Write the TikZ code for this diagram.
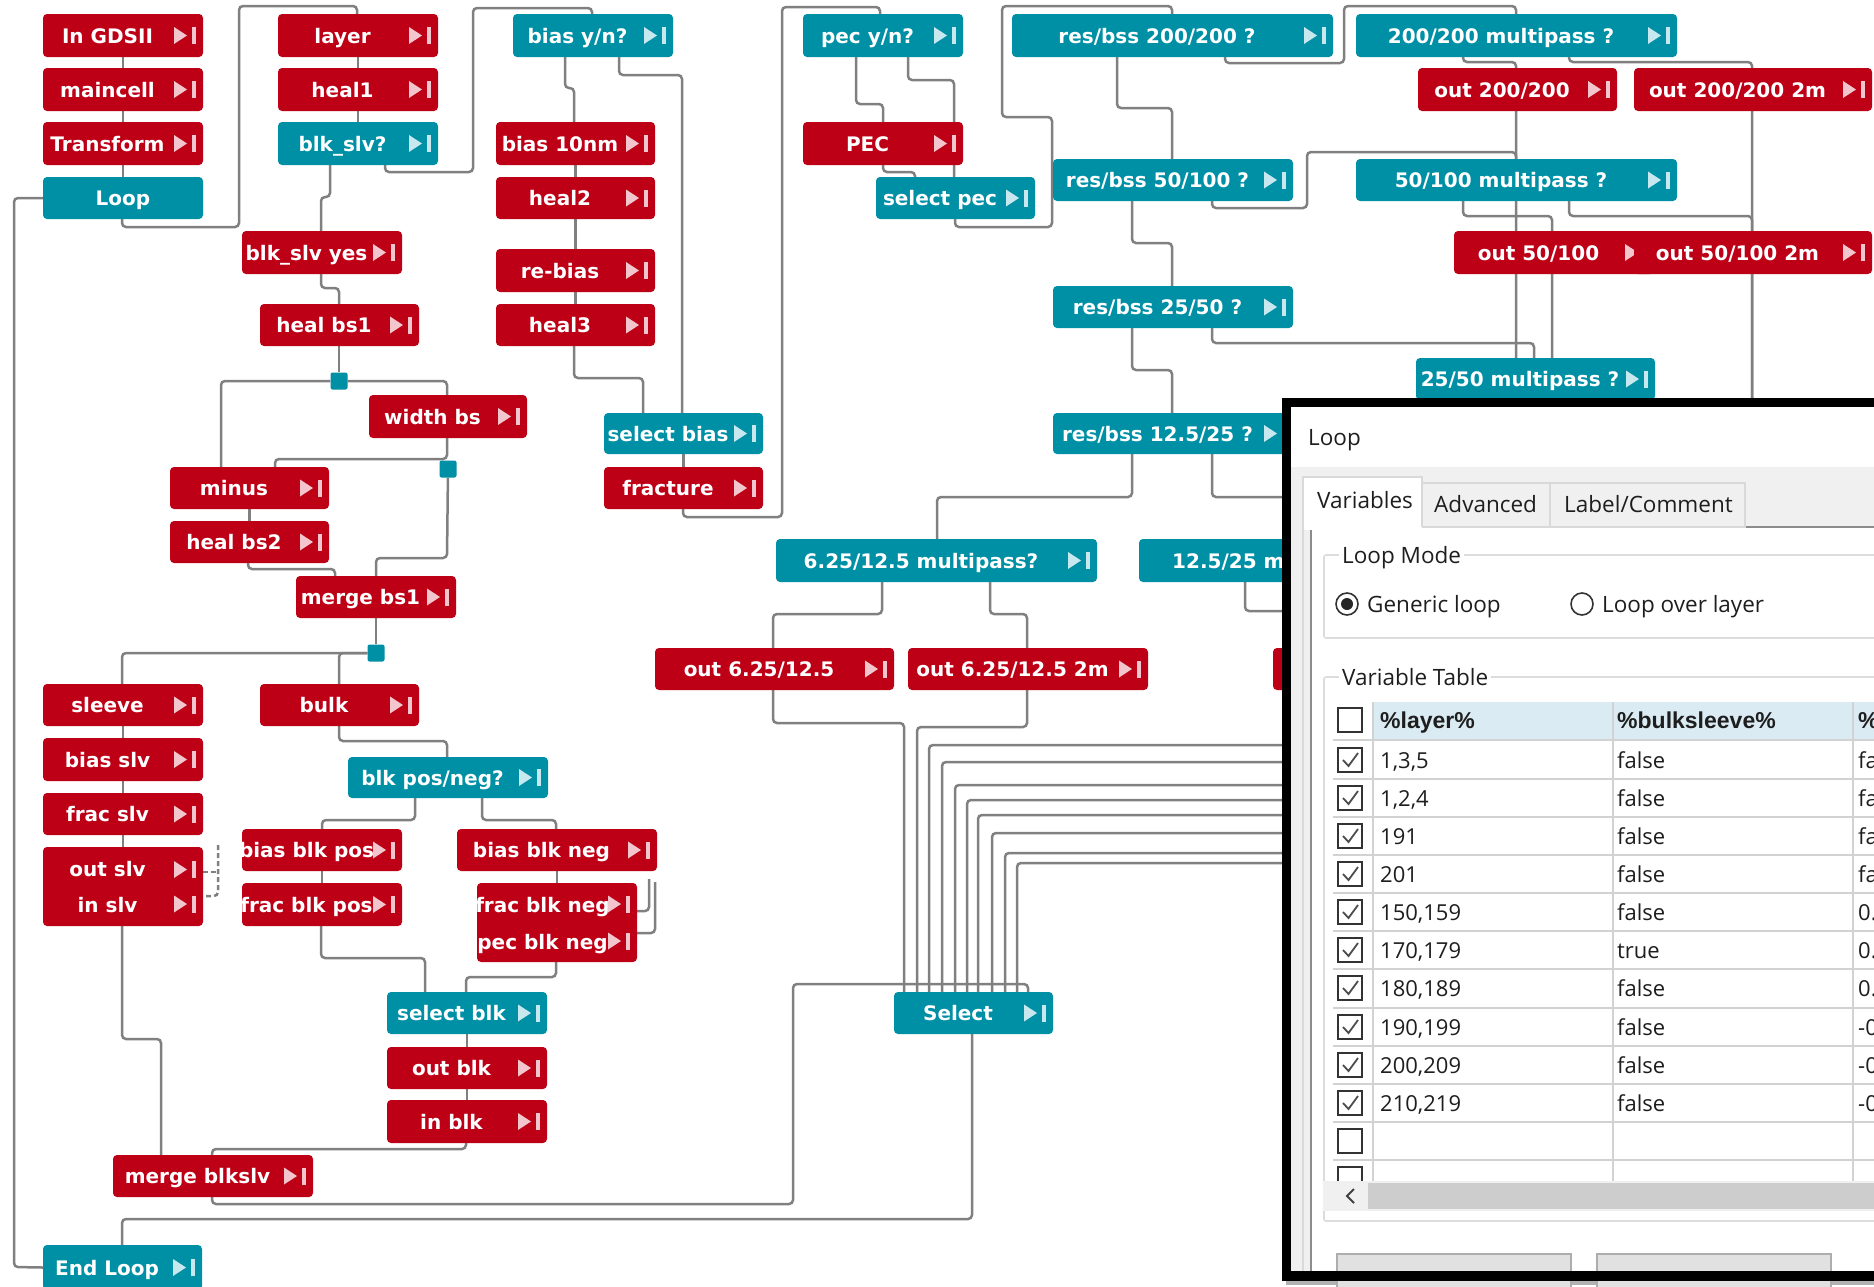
\documentclass[tikz,border=0pt]{standalone}
\usepackage{fontspec}
\newfontfamily\boxfont{DejaVu Sans}
\newfontfamily\uifont{Open Sans}
\newfontfamily\hdrfont{Liberation Sans}
\pgfdeclarelayer{back}
\pgfdeclarelayer{bg}
\pgfsetlayers{back,bg,main}
\definecolor{bred}{HTML}{BE0017}
\definecolor{bteal}{HTML}{0090A6}
\definecolor{bredic}{HTML}{F2C6CC}
\definecolor{btealic}{HTML}{C6E8EE}
\definecolor{wiregray}{HTML}{808080}
\definecolor{uibg}{HTML}{F0F0F0}
\definecolor{tabc}{HTML}{D9D9D9}
\definecolor{panelc}{HTML}{8C8C8C}
\definecolor{grpc}{HTML}{DCDCDC}
\definecolor{hdrblue}{HTML}{DAEBF3}
\definecolor{gridc}{HTML}{D2D2D2}
\definecolor{thumbc}{HTML}{CDCDCD}
\definecolor{btnfill}{HTML}{E1E1E1}
\definecolor{btnline}{HTML}{ADADAD}
\definecolor{uitextc}{HTML}{1E1E1E}
\tikzset{
  boxshape/.style={rectangle, rounded corners=4pt, inner sep=0pt, draw=none},
  boxtext/.style={text=white, font=\boxfont\bfseries\fontsize{20}{24}\selectfont, inner sep=0pt, text height=15pt, text depth=0pt},
  wire/.style={draw=wiregray, line width=2.5pt, rounded corners=4pt},
  splitsq/.style={rectangle, fill=bteal, minimum size=17pt, inner sep=0pt, rounded corners=2pt},
  uitext/.style={font=\uifont\fontsize{22.5}{27}\selectfont, text=uitextc, anchor=west, inner sep=0pt, text height=16pt, text depth=0pt},
  celltext/.style={font=\uifont\fontsize{22}{26}\selectfont, text=uitextc, anchor=west, inner sep=0pt, text height=16pt, text depth=0pt},
  hdrtext/.style={font=\hdrfont\bfseries\fontsize{23}{27}\selectfont, text=uitextc, anchor=west, inner sep=0pt, text height=16pt, text depth=0pt},
  cboxst/.style={draw=black!80, line width=1.6pt, fill=white},
  cmarkst/.style={draw=black!70, line width=1.8pt},
  gridst/.style={draw=gridc, line width=2pt},
  grpst/.style={draw=grpc, line width=1.6pt},
  radiost/.style={draw=black!80, line width=1.6pt, fill=white},
}
\newcommand\icn[3]{%
  \fill[#1] ({#2-29},{#3-8.5}) -- ({#2-16},{#3}) -- ({#2-29},{#3+8.5}) -- cycle;
  \fill[#1] ({#2-11},{#3-8.5}) rectangle ({#2-7},{#3+8.5});
}
\newcommand\blk[7]{%
  \node[boxshape, fill=#2, minimum width={(#5-#3)*1pt}, minimum height={(#6-#4)*1pt}] (#1) at ({(#3+#5)/2},{(#4+#6)/2}) {};
  \node[boxtext] (#1t) at ({(#3+#5-31)/2},{(#4+#6)/2}) {#7};
  \icn{#2ic}{#5}{(#4+#6)/2}%
}
\newcommand\trow[5]{%
  \draw[cboxst] (1338,{#2-12}) rectangle (1362,{#2+12});
  \draw[cmarkst] (1343,{#2}) -- (1348.5,{#2+6}) -- (1358,{#2-7});
  \node[celltext] (#1a) at (1380,#2) {#3};
  \node[celltext] (#1b) at (1617,#2) {#4};
  \node[celltext] (#1c) at (1858,#2) {#5};
}
\begin{document}
\begin{tikzpicture}[x=1pt,y=-1pt]
\useasboundingbox (0,0) rectangle (1874,1286);
\begin{pgfonlayer}{back}
\fill[white] (0,0) rectangle (1874,1286);
\end{pgfonlayer}

% ---------- left column
\blk{ingds}{bred}{43}{14}{203}{57}{In GDSII}
\blk{maincell}{bred}{43}{68}{203}{111}{maincell}
\blk{transform}{bred}{43}{122}{203}{165}{Transform}
\node[boxshape, fill=bteal, minimum width=160pt, minimum height=42pt] (loop) at (123,198) {};
\node[boxtext] (loopt) at (123,198) {Loop};
\blk{layer}{bred}{278}{14}{438}{57}{layer}
\blk{heal1}{bred}{278}{68}{438}{111}{heal1}
\blk{blkslvq}{bteal}{278}{122}{438}{165}{blk\_slv?}
\blk{blkslvyes}{bred}{242}{231}{402}{274}{blk\_slv yes}
\blk{healbs1}{bred}{260}{304}{419}{346}{heal bs1}
\blk{widthbs}{bred}{369}{395}{527}{438}{width bs}
\blk{minus}{bred}{170}{467}{329}{509}{minus}
\blk{healbs2}{bred}{170}{521}{329}{563}{heal bs2}
\blk{mergebs1}{bred}{296}{576}{456}{618}{merge bs1}
\blk{sleeve}{bred}{43}{684}{203}{726}{sleeve}
\blk{biasslv}{bred}{43}{738}{203}{781}{bias slv}
\blk{fracslv}{bred}{43}{793}{203}{835}{frac slv}
\node[boxshape, fill=bred, minimum width=160pt, minimum height=79pt] (outinslv) at (123,886.5) {};
\node[boxtext] (outslvt) at (107.5,869) {out slv};
\node[boxtext] (inslvt) at (107.5,905) {in slv};
\icn{bredic}{203}{869.5}
\icn{bredic}{203}{904}
\blk{bulk}{bred}{260}{684}{419}{726}{bulk}
\blk{blkposneg}{bteal}{348}{757}{548}{798}{blk pos/neg?}
\blk{biasblkpos}{bred}{242}{829}{402}{871}{bias blk pos}
\blk{fracblkpos}{bred}{242}{883}{402}{926}{frac blk pos}
\blk{biasblkneg}{bred}{457}{829}{657}{871}{bias blk neg}
\node[boxshape, fill=bred, minimum width=160pt, minimum height=79pt] (fracpecneg) at (557,922.5) {};
\node[boxtext] (fracnegt) at (542.5,905) {frac blk neg};
\node[boxtext] (pecnegt) at (542.5,942) {pec blk neg};
\icn{bredic}{637}{904}
\icn{bredic}{637}{941}
\blk{selectblk}{bteal}{387}{992}{547}{1034}{select blk}
\blk{outblk}{bred}{387}{1047}{547}{1089}{out blk}
\blk{inblk}{bred}{387}{1100}{547}{1143}{in blk}
\blk{mergeblkslv}{bred}{113}{1155}{313}{1197}{merge blkslv}
\blk{endloop}{bteal}{43}{1245}{202}{1290}{End Loop}

% ---------- middle
\blk{biasyn}{bteal}{513}{14}{673}{57}{bias y/n?}
\blk{bias10}{bred}{496}{122}{655}{165}{bias 10nm}
\blk{heal2}{bred}{496}{177}{655}{219}{heal2}
\blk{rebias}{bred}{496}{249}{655}{292}{re-bias}
\blk{heal3}{bred}{496}{304}{655}{346}{heal3}
\blk{selectbias}{bteal}{604}{413}{763}{454}{select bias}
\blk{fracture}{bred}{604}{467}{763}{509}{fracture}
\blk{pecyn}{bteal}{803}{14}{963}{57}{pec y/n?}
\blk{pec}{bred}{803}{122}{963}{165}{PEC}
\blk{selectpec}{bteal}{876}{177}{1035}{219}{select pec}

% ---------- right
\blk{rb200}{bteal}{1012}{14}{1333}{57}{res/bss 200/200 ?}
\blk{mp200}{bteal}{1356}{14}{1677}{57}{200/200 multipass ?}
\blk{out200}{bred}{1418}{68}{1617}{111}{out 200/200}
\blk{out200m}{bred}{1634}{68}{1872}{111}{out 200/200 2m}
\blk{rb50}{bteal}{1053}{159}{1293}{201}{res/bss 50/100 ?}
\blk{mp50}{bteal}{1356}{159}{1677}{201}{50/100 multipass ?}
\blk{out50}{bred}{1454}{231}{1654}{274}{out 50/100}
\blk{out50m}{bred}{1634}{231}{1872}{274}{out 50/100 2m}
\blk{rb25}{bteal}{1053}{286}{1293}{328}{res/bss 25/50 ?}
\blk{mp25}{bteal}{1416}{358}{1655}{400}{25/50 multipass ?}
\blk{rb12}{bteal}{1053}{413}{1293}{454}{res/bss 12.5/25 ?}
\blk{mp6}{bteal}{776}{539}{1097}{582}{6.25/12.5 multipass?}
\node[boxshape, fill=bteal, minimum width=321pt, minimum height=43pt] (mp12) at (1299.5,560.5) {};
\node[boxtext, anchor=west] (mp12t) at (1172,560.5) {12.5/25 m};
\blk{out6}{bred}{655}{648}{894}{690}{out 6.25/12.5}
\blk{out6m}{bred}{908}{648}{1148}{690}{out 6.25/12.5 2m}
\node[boxshape, fill=bred, minimum width=240pt, minimum height=42pt] (out12) at (1393,669) {};
\blk{select}{bteal}{894}{992}{1053}{1034}{Select}

\node[splitsq] (sp1) at (339,381) {};
\node[splitsq] (sp2) at (448,469) {};
\node[splitsq] (sp3) at (376,653) {};

\coordinate (hidA) at (1400,833);
\coordinate (hidB) at (1400,853);
\coordinate (hidC) at (1400,863);

% ---------- connectors
\begin{pgfonlayer}{bg}
\draw[wire] (ingds) -- (maincell) -- (transform) -- (loop);
\draw[wire] (layer) -- (heal1) -- (blkslvq);
\draw[wire] (bias10) -- (heal2) -- (rebias) -- (heal3);
\draw[wire] (selectbias) -- (fracture);
\draw[wire] (minus) -- (healbs2);
\draw[wire] (sleeve) -- (biasslv) -- (fracslv) -- (outinslv);
\draw[wire] (biasblkpos) -- (fracblkpos);
\draw[wire] (biasblkneg) -- (fracpecneg);
\draw[wire] (selectblk) -- (outblk) -- (inblk);

\draw[wire] (loop.south -| 122,0) -- (122,227) -- (239,227) -- (239,6) -- (357,6) -- (layer.north -| 357,0);
\draw[wire] (blkslvq.south -| 330,0) -- (330,197) -- (321,197) -- (blkslvyes.north -| 321,0);
\draw[wire] (blkslvq.south -| 385,0) -- (385,172) -- (473,172) -- (473,8) -- (592,8) -- (biasyn.north -| 592,0);
\draw[wire] (blkslvyes.south -| 321,0) -- (321,288) -- (339,288) -- (healbs1.north -| 339,0);
\draw[wire] (healbs1.south -| 339,0) -- (sp1);
\draw[wire] (sp1) -- (221,381) -- (minus.north -| 221,0);
\draw[wire] (sp1) -- (447,381) -- (widthbs.north -| 447,0);
\draw[wire] (widthbs.south -| 447,0) -- (447,459) -- (275,459) -- (minus.north -| 275,0);
\draw[wire] (sp2) -- (447,558) -- (376,558) -- (mergebs1.north -| 376,0);
\draw[wire] (healbs2.south -| 248,0) -- (248,569) -- (335,569) -- (mergebs1.north -| 335,0);
\draw[wire] (mergebs1.south -| 376,0) -- (sp3);
\draw[wire] (sp3) -- (122,653) -- (sleeve.north -| 122,0);
\draw[wire] (sp3) -- (339,653) -- (bulk.north -| 339,0);
\draw[wire] (bulk.south -| 339,0) -- (339,741) -- (447,741) -- (blkposneg.north -| 447,0);
\draw[wire] (blkposneg.south -| 415,0) -- (415,820) -- (322,820) -- (biasblkpos.north -| 322,0);
\draw[wire] (blkposneg.south -| 482,0) -- (482,820) -- (556,820) -- (biasblkneg.north -| 556,0);
\draw[wire] (fracblkpos.south -| 321,0) -- (321,958) -- (425,958) -- (selectblk.north -| 425,0);
\draw[wire] (fracpecneg.south -| 556,0) -- (556,977) -- (466,977) -- (selectblk.north -| 466,0);
\draw[wire] (outinslv.south -| 122,0) -- (122,1039) -- (161,1039) -- (mergeblkslv.north -| 161,0);
\draw[wire] (inblk.south -| 466,0) -- (466,1149) -- (212,1149) -- (mergeblkslv.north -| 212,0);
\draw[wire] (mergeblkslv.south -| 212,0) -- (212,1204) -- (793,1204) -- (793,984) -- (1028,984) -- (select.north -| 1028,0);
\draw[wire] (select.south -| 972,0) -- (972,1219) -- (122,1219) -- (endloop.north -| 122,0);
\draw[wire] (loop.west) -- (14,198) -- (14,1267) -- (endloop.west);
\draw[wire, dash pattern=on 5pt off 3pt] (outinslv.east |- 0,872) -- (218,872);
\draw[wire, dash pattern=on 5pt off 3pt] (218,845) -- (218,896) -- (outinslv.east |- 0,896);
\draw[wire] (fracpecneg.east |- 0,911) -- (649,911) -- (649,879);
\draw[wire] (fracpecneg.east |- 0,933) -- (655,933) -- (655,882);

\draw[wire] (biasyn.south -| 565,0) -- (565,88) -- (574,88) -- (bias10.north -| 574,0);
\draw[wire] (biasyn.south -| 619,0) -- (619,75) -- (682,75) -- (selectbias.north -| 682,0);
\draw[wire] (heal3.south -| 574,0) -- (574,378) -- (643,378) -- (selectbias.north -| 643,0);
\draw[wire] (fracture.south -| 683,0) -- (683,517) -- (782,517) -- (782,7) -- (880,7) -- (pecyn.north -| 880,0);
\draw[wire] (pecyn.south -| 856,0) -- (856,104) -- (883,104) -- (pec.north -| 883,0);
\draw[wire] (pec.south -| 883,0) -- (883,172) -- (915,172) -- (selectpec.north -| 915,0);
\draw[wire] (pecyn.south -| 908,0) -- (908,80) -- (954,80) -- (selectpec.north -| 954,0);
\draw[wire] (selectpec.south -| 955,0) -- (955,227) -- (1052,227) -- (1052,117) -- (1002,117) -- (1002,6) -- (1172,6) -- (rb200.north -| 1172,0);
\draw[wire] (rb200.south -| 1117,0) -- (1117,108) -- (1172,108) -- (rb50.north -| 1172,0);
\draw[wire] (rb200.south -| 1225,0) -- (1225,63) -- (1344,63) -- (1344,6) -- (1516,6) -- (mp200.north -| 1516,0);
\draw[wire] (mp200.south -| 1463,0) -- (1463,62) -- (1516,62) -- (out200.north -| 1516,0);
\draw[wire] (mp200.south -| 1569,0) -- (1569,62) -- (1752,62) -- (out200m.north -| 1752,0);
\draw[wire] (rb50.south -| 1212,0) -- (1212,208) -- (1307,208) -- (1307,152) -- (1516,152) -- (mp50.north -| 1516,0);
\draw[wire] (mp50.south -| 1463,0) -- (1463,216) -- (1552,216) -- (out50.north -| 1552,0);
\draw[wire] (mp50.south -| 1569,0) -- (1569,216) -- (1752,216) -- (out50m.north -| 1752,0);
\draw[wire] (rb50.south -| 1132,0) -- (1132,243) -- (1172,243) -- (rb25.north -| 1172,0);
\draw[wire] (rb25.south -| 1212,0) -- (1212,343) -- (1534,343) -- (mp25.north -| 1534,0);
\draw[wire] (rb25.south -| 1132,0) -- (1132,370) -- (1172,370) -- (rb12.north -| 1172,0);
\draw[wire] (rb12.south -| 1132,0) -- (1132,497) -- (937,497) -- (mp6.north -| 937,0);
\draw[wire] (rb12.south -| 1212,0) -- (1212,497) -- (1400,497) -- (mp12.north -| 1400,0);
\draw[wire] (mp6.south -| 882,0) -- (882,614) -- (773,614) -- (out6.north -| 773,0);
\draw[wire] (mp6.south -| 990,0) -- (990,614) -- (1027,614) -- (out6m.north -| 1027,0);
\draw[wire] (mp12.south -| 1245,0) -- (1245,611) -- (1310,611) -- (out12.north -| 1310,0);
\draw[wire] (out6.south -| 773,0) -- (773,723) -- (904,723) -- (select.north -| 904,0);
\draw[wire] (out6m.south -| 1027,0) -- (1027,727) -- (917,727) -- (select.north -| 917,0);
\draw[wire] (out200.south -| 1516,0) -- (1516,745) -- (929,745) -- (select.north -| 929,0);
\draw[wire] (out200m.south -| 1752,0) -- (1752,762) -- (942,762) -- (select.north -| 942,0);
\draw[wire] (out50.south -| 1552,0) -- (1552,785) -- (955,785) -- (select.north -| 955,0);
\draw[wire] (out50m.south -| 1752,0) -- (1752,800) -- (967,800) -- (select.north -| 967,0);
\draw[wire] (out12.south -| 1300,0) -- (1300,815) -- (978,815) -- (select.north -| 978,0);
\draw[wire] (hidA) -- (992,833) -- (select.north -| 992,0);
\draw[wire] (hidB) -- (1005,853) -- (select.north -| 1005,0);
\draw[wire] (hidC) -- (1017,863) -- (select.north -| 1017,0);
\end{pgfonlayer}

% ---------- dialog
\begin{scope}
\clip (1282,398) rectangle (1874,1286);
\fill[black!30] (1286,1281) rectangle (1880,1285);
\fill[black] (1282,398) rectangle (1880,1281);
\fill[white] (1291,407) rectangle (1880,1271);
\fill[uibg] (1291,467) rectangle (1880,1271);
\node[uitext] (dtitle) at (1308,437) {Loop};
\fill[white] (1311,527) rectangle (1880,1271);
\draw[draw=panelc, line width=2pt] (1311,1271) -- (1311,527) -- (1880,527);
\filldraw[fill=uibg, draw=tabc, line width=1.5pt] (1422,483) rectangle (1550,527);
\filldraw[fill=uibg, draw=tabc, line width=1.5pt] (1550,483) rectangle (1745,527);
\fill[white] (1303,477) rectangle (1422,530);
\draw[draw=tabc, line width=1.5pt] (1303,1271) -- (1303,477) -- (1422,477) -- (1422,527);
\node[uitext] (tabvar) at (1317,500) {Variables};
\node[uitext] (tabadv) at (1434,504) {Advanced};
\node[uitext] (tablab) at (1564,504) {Label/Comment};
% loop mode group
\draw[grpst, rounded corners=2pt] (1880,555) -- (1324,555) -- (1324,638) -- (1880,638);
\node[uitext, fill=white, inner xsep=3pt] (lmode) at (1339,555) {Loop Mode};
\draw[radiost] (1347,604) circle[radius=11pt];
\fill[black!85] (1347,604) circle[radius=6pt];
\node[uitext] (generic) at (1367,604) {Generic loop};
\draw[radiost] (1582,604) circle[radius=11pt];
\node[uitext] (overlayer) at (1602,604) {Loop over layer};
% variable table group
\draw[grpst, rounded corners=2pt] (1880,677) -- (1324,677) -- (1324,1221) -- (1880,1221);
\node[uitext, fill=white, inner xsep=3pt] (vtable) at (1339,677) {Variable Table};
\fill[hdrblue] (1373,702) rectangle (1880,739);
\foreach \yy in {740,779,817,855,893,931,969,1008,1046,1084,1122,1160}
  \draw[gridst] (1333,\yy) -- (1880,\yy);
\draw[gridst] (1373,702) -- (1373,1181);
\draw[gridst] (1613,702) -- (1613,1181);
\draw[gridst] (1853,702) -- (1853,1181);
\draw[cboxst] (1338,708) rectangle (1362,732);
\node[hdrtext] (h1) at (1380,720) {\%layer\%};
\node[hdrtext] (h2) at (1617,720) {\%bulksleeve\%};
\node[hdrtext] (h3) at (1858,720) {\%};
\trow{ra}{760}{1,3,5}{false}{fa}
\trow{rb}{798}{1,2,4}{false}{fa}
\trow{rc}{836}{191}{false}{fa}
\trow{rd}{874}{201}{false}{fa}
\trow{re}{912}{150,159}{false}{0.}
\trow{rf}{950}{170,179}{true}{0.}
\trow{rg}{988}{180,189}{false}{0.}
\trow{rh}{1027}{190,199}{false}{-0}
\trow{ri}{1065}{200,209}{false}{-0}
\trow{rj}{1103}{210,219}{false}{-0}
\draw[cboxst] (1338,1129) rectangle (1362,1153);
\draw[cboxst] (1338,1167) rectangle (1362,1191);
% scrollbar
\fill[uibg] (1323,1181) rectangle (1880,1211);
\fill[thumbc] (1368,1183) rectangle (1880,1209);
\draw[draw=black!75, line width=2pt] (1354,1189) -- (1347,1196) -- (1354,1203);
% buttons
\filldraw[fill=btnfill, draw=btnline, line width=1.5pt] (1337,1254) rectangle (1571,1300);
\filldraw[fill=btnfill, draw=btnline, line width=1.5pt] (1597,1254) rectangle (1831,1300);
\fill[black] (1282,1271) rectangle (1880,1281);
\fill[black] (1282,398) rectangle (1291,1281);
\end{scope}
\end{tikzpicture}
\end{document}
